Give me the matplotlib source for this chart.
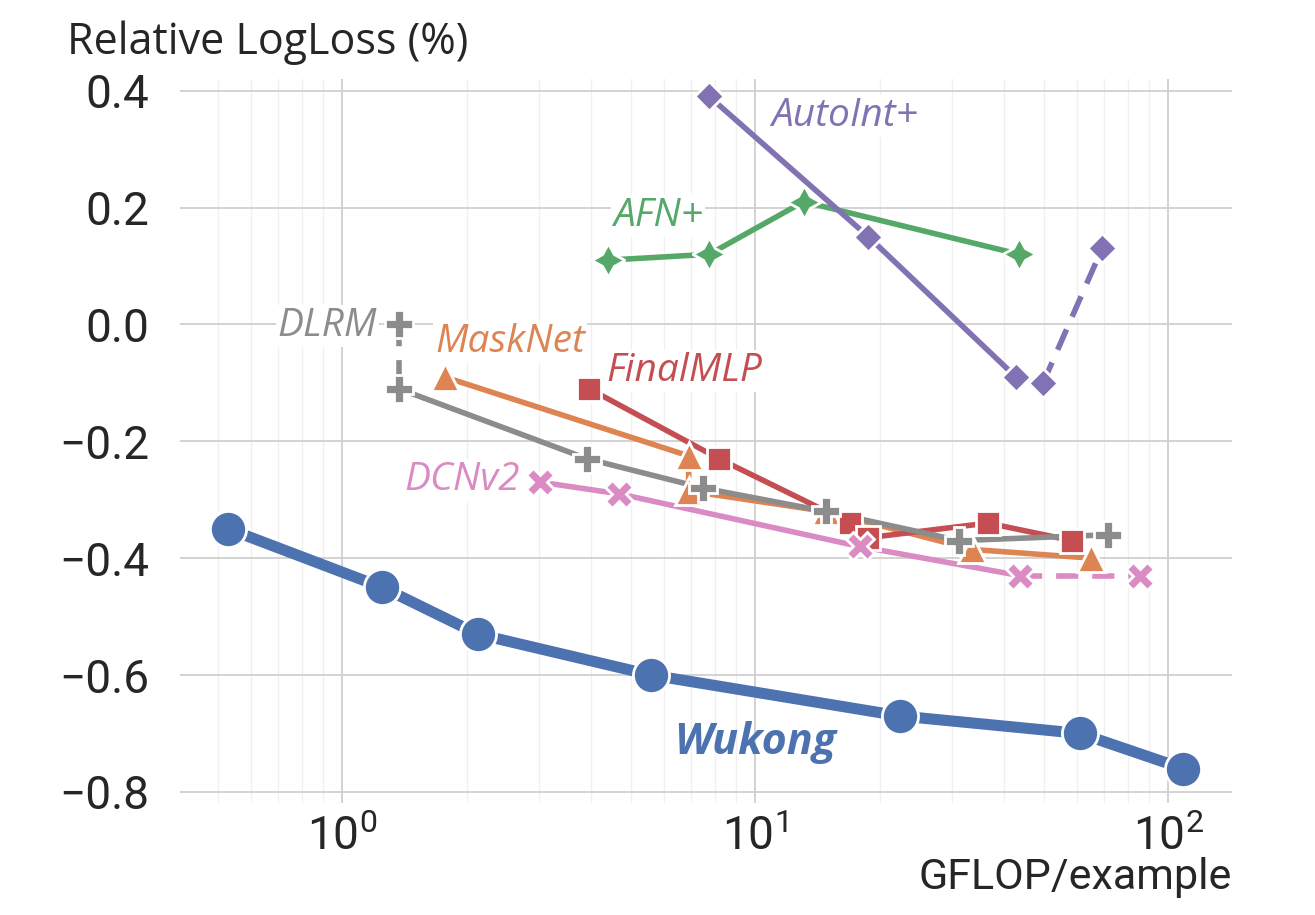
import matplotlib
matplotlib.use("Agg")
import matplotlib.pyplot as plt
from matplotlib.ticker import LogLocator, LogFormatterSciNotation, FixedLocator

plt.rcParams["font.family"] = ["Roboto", "DejaVu Sans"]
plt.rcParams["mathtext.fontset"] = "custom"
plt.rcParams["mathtext.rm"] = "Roboto"
plt.rcParams["mathtext.it"] = "Roboto:italic"
plt.rcParams["axes.unicode_minus"] = True

# GFLOP/example vs relative LogLoss (%)
wukong_x = [0.53, 1.25, 2.13, 5.6, 22.4, 61.2, 108.7]
wukong_y = [-0.35, -0.45, -0.53, -0.60, -0.67, -0.70, -0.76]

autoint_x = [7.74, 18.8, 42.8, 49.8, 69.2]
autoint_y = [0.39, 0.15, -0.09, -0.10, 0.13]

afn_x = [4.41, 7.74, 13.1, 43.6]
afn_y = [0.11, 0.12, 0.21, 0.12]

finalmlp_x = [3.96, 8.18, 17.0, 18.8, 36.6, 58.6]
finalmlp_y = [-0.11, -0.23, -0.34, -0.365, -0.34, -0.37]

masknet_x = [1.77, 6.9, 6.9, 14.8, 33.5, 65.1]
masknet_y = [-0.09, -0.225, -0.285, -0.32, -0.385, -0.40]

dlrm_x = [1.37, 1.37, 3.92, 7.48, 14.8, 31.2, 71.5]
dlrm_y = [0.0, -0.11, -0.23, -0.28, -0.32, -0.37, -0.36]

dcnv2_x = [3.02, 4.69, 17.9, 43.8, 85.5]
dcnv2_y = [-0.27, -0.29, -0.38, -0.43, -0.43]

blue = "#4C72B0"
orange = "#DD8452"
green = "#55A868"
red = "#C44E52"
purple = "#8172B3"
pink = "#DA8BC3"
gray = "#8C8C8C"

fig = plt.figure(figsize=(13.15, 9.15), dpi=100)
ax = fig.add_axes([0.137, 0.1224, 0.8, 0.7913])
ax.set_xscale("log")
ax.set_xlim(0.405, 142.9)
ax.set_ylim(-0.819, 0.42)

ax.grid(True, which="major", color="#d0d0d0", lw=1.3, zorder=0)
ax.grid(True, which="minor", axis="x", color="#f0f0f0", lw=1.0, zorder=0)
ax.set_axisbelow(True)
for s in ax.spines.values():
    s.set_visible(False)


def series(x, y, color, marker, ms, lw=4, dashed_first=False, dashed_last=False, z=3):
    solid_x, solid_y = list(x), list(y)
    if dashed_first:
        ax.plot(x[:2], y[:2], color=color, lw=lw, ls=(0, (4, 2.5)), zorder=z)
        solid_x, solid_y = solid_x[1:], solid_y[1:]
    if dashed_last:
        ax.plot(x[-2:], y[-2:], color=color, lw=lw, ls=(0, (4, 2.5)), zorder=z)
        solid_x, solid_y = solid_x[:-1], solid_y[:-1]
    ax.plot(solid_x, solid_y, color=color, lw=lw, zorder=z)
    ax.plot(x, y, ls="none", marker=marker, ms=ms, color=color,
            mec="white", mew=2, zorder=z + 0.5)


series(afn_x, afn_y, green, (4, 1, 0), 24)
series(autoint_x, autoint_y, purple, (4, 0, 0), 21, dashed_last=True)
series(masknet_x, masknet_y, orange, "^", 20)
series(finalmlp_x, finalmlp_y, red, "s", 17)
series(dlrm_x, dlrm_y, gray, "P", 20, dashed_first=True)
series(dcnv2_x, dcnv2_y, pink, "X", 20, dashed_last=True)
series(wukong_x, wukong_y, blue, "o", 26, lw=8)

lab = dict(family=["Open Sans", "Noto Sans", "DejaVu Sans"], style="italic", fontsize=28,
           ha="center", va="center", zorder=6,
           bbox=dict(facecolor="white", edgecolor="none", pad=1.5))
ax.text(16.5, 0.357, "AutoInt+", color=purple, **lab)
ax.text(5.83, 0.185, "AFN+", color=green, **lab)
ax.text(0.92, -0.002, "DLRM", color=gray, **lab)
ax.text(2.55, -0.03, "MaskNet", color=orange, **lab)
ax.text(6.75, -0.08, "FinalMLP", color=red, **lab)
ax.text(1.95, -0.267, "DCNv2", color=pink, **lab)
ax.text(10.0, -0.715, "Wukong", color=blue, family=["Open Sans", "Noto Sans", "DejaVu Sans"],
        style="italic", weight="bold", fontsize=31, ha="center", va="center", zorder=6)

ax.yaxis.set_major_locator(FixedLocator([-0.8, -0.6, -0.4, -0.2, 0.0, 0.2, 0.4]))
ax.set_yticklabels(["\u22120.8", "\u22120.6", "\u22120.4", "\u22120.2", "0.0", "0.2", "0.4"])
ax.xaxis.set_major_locator(LogLocator(base=10))
ax.xaxis.set_major_formatter(LogFormatterSciNotation())
ax.xaxis.set_minor_locator(LogLocator(base=10, subs=range(2, 10)))
ax.tick_params(axis="both", which="both", length=0, labelsize=33, labelcolor="#262626")
ax.tick_params(axis="y", pad=22)
ax.tick_params(axis="x", pad=8)

fig.text(0.051, 0.953, "Relative LogLoss (%)", family=["Open Sans", "Noto Sans", "DejaVu Sans"],
         fontsize=31, color="#262626", ha="left", va="center")
fig.text(0.937, 0.041, "GFLOP/example", fontsize=31, color="#262626",
         ha="right", va="center")

fig.savefig("out.png", dpi=100)
